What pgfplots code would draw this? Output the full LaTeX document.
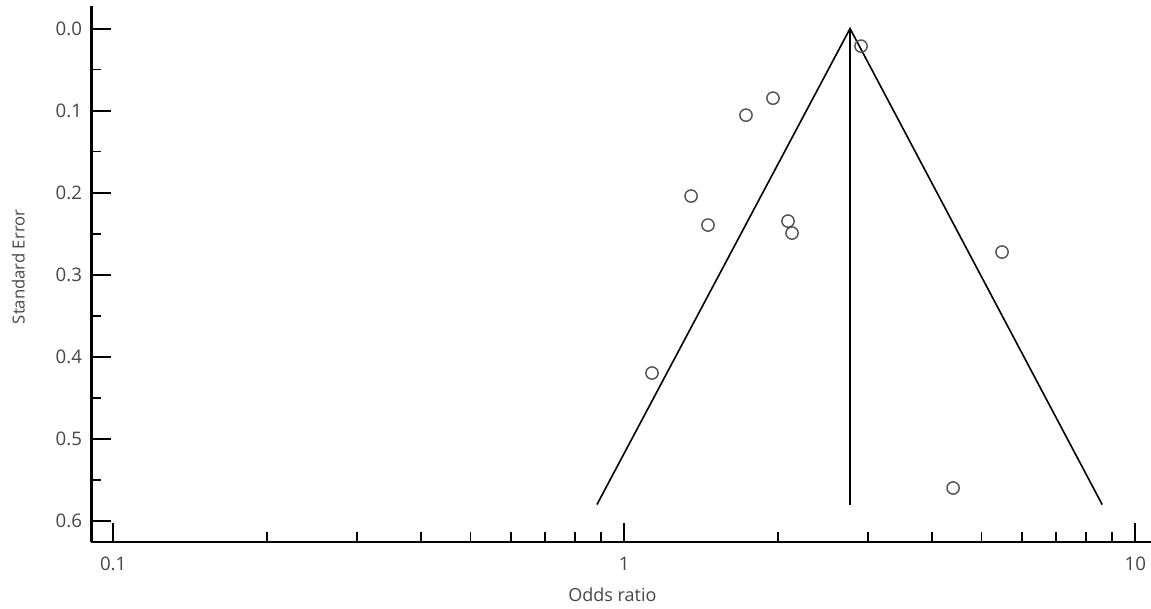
\documentclass[border=0pt]{standalone}
\usepackage{pgfplots}
\pgfplotsset{compat=1.18}
\usepackage{fontspec}
\setmainfont{Open Sans}
\definecolor{txt}{RGB}{70,70,70}
\definecolor{mk}{RGB}{85,85,85}
\begin{document}
\begin{tikzpicture}
\begin{axis}[
  scale only axis, width=794.8pt, height=402pt,
  xmode=log, xmin=0.0906, xmax=10.73,
  ymin=-0.0275, ymax=0.6256, y dir=reverse,
  axis x line=bottom, axis y line=left,
  axis line style={line width=2.2pt, -, black},
  xtick={0.1,1,10}, xticklabels={0.1,1,10},
  minor xtick={0.2,0.3,0.4,0.5,0.6,0.7,0.8,0.9,2,3,4,5,6,7,8,9},
  ytick={0,0.1,0.2,0.3,0.4,0.5,0.6},
  yticklabels={0.0,0.1,0.2,0.3,0.4,0.5,0.6},
  minor ytick={0.05,0.15,0.25,0.35,0.45,0.55},
  tick align=inside,
  major tick length=14.5pt, minor tick length=7.5pt,
  major tick style={line width=1.6pt, black},
  minor tick style={line width=1.2pt, black},
  ticklabel style={font=\fontsize{14}{16}\selectfont, text=txt},
  yticklabel style={anchor=east, inner sep=0pt, xshift=-6.8pt},
  xticklabel style={anchor=center, inner sep=0pt, yshift=-16.5pt},
  xlabel={Odds ratio},
  xlabel style={at={(axis description cs:0.4917,0)}, anchor=center, inner sep=0pt, yshift=-39.5pt, font=\fontsize{13.5}{16}\selectfont, text=txt},
  ylabel={Standard Error},
  ylabel style={at={(axis description cs:-0.0687,0.5134)}, anchor=center, inner sep=0pt, font=\fontsize{12.5}{15}\selectfont, text=txt},
  clip=false,
]
\addplot[black, line width=1.2pt, mark=none] coordinates {(0.884,0.58) (2.765,0) (8.61,0.58)};
\addplot[black, line width=1.2pt, mark=none] coordinates {(2.765,0) (2.765,0.58)};
\addplot[only marks, mark=o, mark size=4.6pt, mark options={draw=mk, line width=1.1pt}] coordinates {
(2.905,0.0214)
(1.954,0.0848)
(1.730,0.1055)
(1.351,0.2041)
(1.458,0.2394)
(2.091,0.2346)
(2.129,0.2492)
(5.484,0.2723)
(1.133,0.4197)
(4.399,0.5598)
};
\coordinate (ll) at (axis cs:0.0906,0.6256);
\end{axis}
\pgfresetboundingbox
\path[use as bounding box] (ll) ++(-68.475pt,-50.25pt) rectangle ++(863.25pt,456.75pt);
\end{tikzpicture}
\end{document}
